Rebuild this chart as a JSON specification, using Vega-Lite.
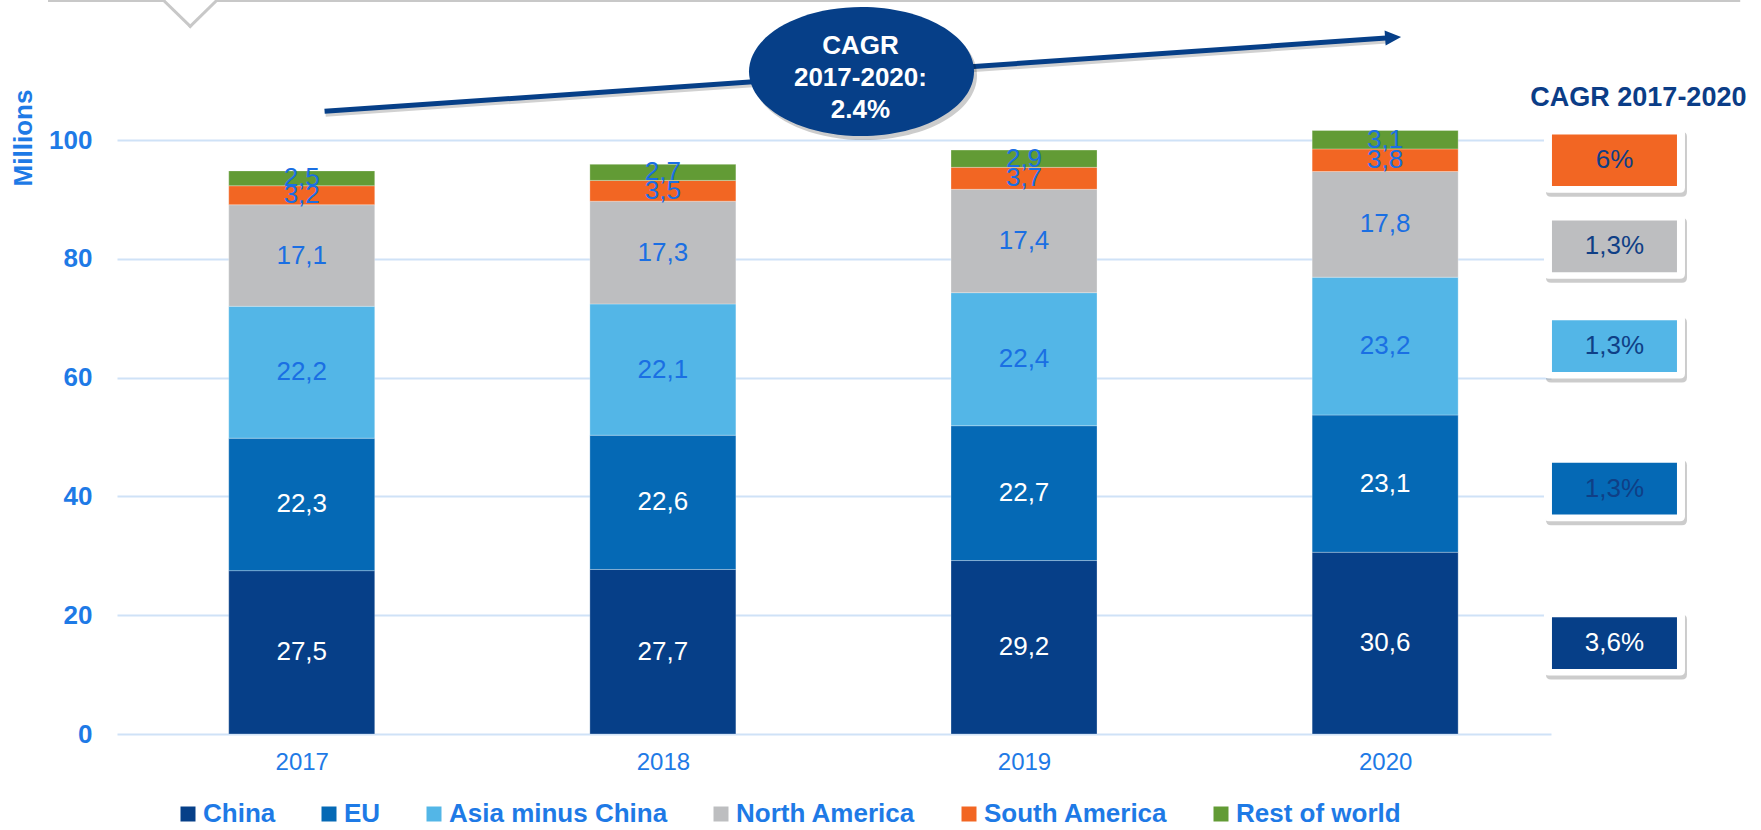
{
  "$schema": "https://vega.github.io/schema/vega-lite/v6.json",
  "width": 1434,
  "height": 734,
  "autosize": {"type": "none"},
  "padding": {"left": 117, "top": 0, "right": 210, "bottom": 96},
  "background": "white",
  "config": {
    "view": {"stroke": null},
    "font": "Liberation Sans",
    "locale": {"number": {"decimal": ",", "thousands": ".", "grouping": [3], "currency": ["", " €"]}}
  },
  "datasets": {
    "production": [
      {"year": 2017, "region": "China", "k": 1, "value": 27.5},
      {"year": 2017, "region": "EU", "k": 2, "value": 22.3},
      {"year": 2017, "region": "Asia minus China", "k": 3, "value": 22.2},
      {"year": 2017, "region": "North America", "k": 4, "value": 17.1},
      {"year": 2017, "region": "South America", "k": 5, "value": 3.2},
      {"year": 2017, "region": "Rest of world", "k": 6, "value": 2.5},
      {"year": 2018, "region": "China", "k": 1, "value": 27.7},
      {"year": 2018, "region": "EU", "k": 2, "value": 22.6},
      {"year": 2018, "region": "Asia minus China", "k": 3, "value": 22.1},
      {"year": 2018, "region": "North America", "k": 4, "value": 17.3},
      {"year": 2018, "region": "South America", "k": 5, "value": 3.5},
      {"year": 2018, "region": "Rest of world", "k": 6, "value": 2.7},
      {"year": 2019, "region": "China", "k": 1, "value": 29.2},
      {"year": 2019, "region": "EU", "k": 2, "value": 22.7},
      {"year": 2019, "region": "Asia minus China", "k": 3, "value": 22.4},
      {"year": 2019, "region": "North America", "k": 4, "value": 17.4},
      {"year": 2019, "region": "South America", "k": 5, "value": 3.7},
      {"year": 2019, "region": "Rest of world", "k": 6, "value": 2.9},
      {"year": 2020, "region": "China", "k": 1, "value": 30.6},
      {"year": 2020, "region": "EU", "k": 2, "value": 23.1},
      {"year": 2020, "region": "Asia minus China", "k": 3, "value": 23.2},
      {"year": 2020, "region": "North America", "k": 4, "value": 17.8},
      {"year": 2020, "region": "South America", "k": 5, "value": 3.8},
      {"year": 2020, "region": "Rest of world", "k": 6, "value": 3.1}
    ],
    "cagr": [
      {"region": "China", "cagr": "3,6%"},
      {"region": "EU", "cagr": "1,3%"},
      {"region": "Asia minus China", "cagr": "1,3%"},
      {"region": "North America", "cagr": "1,3%"},
      {"region": "South America", "cagr": "6%"}
    ]
  },
  "data": {"name": "production"},
  "layer": [
    {
      "mark": {"type": "bar", "width": 146, "stroke": "#ffffff", "strokeWidth": 0.8, "strokeOpacity": 0.35},
      "encoding": {
        "x": {
          "field": "year", "type": "quantitative",
          "scale": {"domain": [2016.5023, 2020.4454], "nice": false, "zero": false},
          "axis": {
            "values": [2017, 2018, 2019, 2020], "format": "d", "title": null,
            "ticks": false, "domain": false, "grid": false,
            "labelFontSize": 24, "labelColor": "#1e7ae6", "labelPadding": 16, "labelFont": "Liberation Sans"
          }
        },
        "y": {
          "field": "value", "type": "quantitative", "stack": "zero",
          "scale": {"domain": [0, 123.57], "nice": false},
          "axis": {
            "values": [0, 20, 40, 60, 80, 100], "format": "d",
            "ticks": false, "domain": false, "grid": true, "gridColor": "#cfe2f7", "gridWidth": 2,
            "labelFontSize": 26, "labelFontWeight": "bold", "labelColor": "#1e7ae6", "labelPadding": 25, "labelFont": "Liberation Sans",
            "title": "Millions", "titleFontSize": 26, "titleFontWeight": "bold", "titleColor": "#1e7ae6", "titleFont": "Liberation Sans",
            "titleAngle": -90, "titleX": -94, "titleY": 137.5, "titleAlign": "center", "titleBaseline": "middle"
          }
        },
        "color": {
          "field": "region", "type": "nominal",
          "scale": {
            "domain": ["China", "EU", "Asia minus China", "North America", "South America", "Rest of world"],
            "range": ["#063f88", "#0569b5", "#53b6e7", "#bdbec0", "#f26623", "#629b35"]
          },
          "legend": {
            "orient": "none", "legendX": 58, "legendY": 801, "direction": "horizontal", "title": null, "padding": 0,
            "symbolType": "square", "symbolSize": 225, "symbolStrokeWidth": 0,
            "labelFontSize": 26, "labelFontWeight": "bold", "labelColor": "#1e7ae6", "labelFont": "Liberation Sans",
            "labelOffset": 2, "columnPadding": 40, "labelLimit": 400
          }
        },
        "order": {"field": "k", "type": "quantitative"}
      }
    },
    {
      "mark": {"type": "text", "fontSize": 26, "font": "Liberation Sans", "baseline": "middle", "align": "center"},
      "encoding": {
        "x": {"field": "year", "type": "quantitative"},
        "y": {"field": "value", "type": "quantitative", "stack": "zero", "bandPosition": 0.5},
        "detail": {"field": "region"},
        "order": {"field": "k", "type": "quantitative"},
        "text": {"field": "value", "type": "quantitative", "format": ".1f"},
        "color": {"condition": {"test": "datum.region === 'China' || datum.region === 'EU'", "value": "#ffffff"}, "value": "#1a6fe3"}
      }
    },
    {
      "transform": [
        {"filter": "datum.year === 2020 && datum.region !== 'Rest of world'"},
        {"lookup": "region", "from": {"data": {"name": "cagr"}, "key": "region", "fields": ["cagr"]}}
      ],
      "encoding": {
        "x": {"datum": 2020.635, "type": "quantitative"},
        "y": {"field": "value", "type": "quantitative", "stack": "zero", "bandPosition": 0.5},
        "detail": {"field": "region"},
        "order": {"field": "k", "type": "quantitative"}
      },
      "layer": [
        {
          "mark": {
            "type": "point", "filled": true, "color": "#000000", "opacity": 0.2, "strokeWidth": 0,
            "shape": "M-0.929,-0.461H0.929Q1,-0.461,1,-0.39V0.39Q1,0.461,0.929,0.461H-0.929Q-1,0.461,-1,0.39V-0.39Q-1,-0.461,-0.929,-0.461Z",
            "size": 19881, "xOffset": 2,
            "yOffset": {"expr": "(datum.region === 'North America' ? 22 : datum.region === 'EU' ? 5 : 0) + 4"}
          }
        },
        {
          "mark": {
            "type": "point", "filled": true, "color": "#ffffff", "opacity": 1, "strokeWidth": 0,
            "shape": "M-0.929,-0.461H0.929Q1,-0.461,1,-0.39V0.39Q1,0.461,0.929,0.461H-0.929Q-1,0.461,-1,0.39V-0.39Q-1,-0.461,-0.929,-0.461Z",
            "size": 19881,
            "yOffset": {"expr": "datum.region === 'North America' ? 22 : datum.region === 'EU' ? 5 : 0"}
          }
        },
        {
          "mark": {
            "type": "point", "filled": true, "opacity": 1, "strokeWidth": 0,
            "shape": "M-1,-0.413H1V0.413H-1Z", "size": 15625,
            "yOffset": {"expr": "datum.region === 'North America' ? 22 : datum.region === 'EU' ? 5 : 0"}
          },
          "encoding": {
            "fill": {
              "field": "region", "type": "nominal", "legend": null,
              "scale": {
                "domain": ["China", "EU", "Asia minus China", "North America", "South America", "Rest of world"],
                "range": ["#063f88", "#0569b5", "#53b6e7", "#bdbec0", "#f26623", "#629b35"]
              }
            }
          }
        },
        {
          "mark": {
            "type": "text", "fontSize": 26, "font": "Liberation Sans", "baseline": "middle", "align": "center",
            "yOffset": {"expr": "datum.region === 'North America' ? 22 : datum.region === 'EU' ? 5 : 0"}
          },
          "encoding": {
            "text": {"field": "cagr", "type": "nominal"},
            "color": {"condition": {"test": "datum.region === 'China'", "value": "#ffffff"}, "value": "#0f3f86"}
          }
        }
      ]
    },
    {
      "data": {"values": [{"note": "frame"}]},
      "layer": [
        {
          "mark": {"type": "rule", "color": "#c8c8c8", "strokeWidth": 3, "strokeCap": "square"},
          "encoding": {"x": {"datum": 2016.3016}, "x2": {"datum": 2016.6178}, "y": {"datum": 123.48}, "y2": {"datum": 123.48}}
        },
        {
          "mark": {"type": "rule", "color": "#c8c8c8", "strokeWidth": 3, "strokeCap": "square"},
          "encoding": {"x": {"datum": 2016.6178}, "x2": {"datum": 2016.6912}, "y": {"datum": 123.48}, "y2": {"datum": 119.15}}
        },
        {
          "mark": {"type": "rule", "color": "#c8c8c8", "strokeWidth": 3, "strokeCap": "square"},
          "encoding": {"x": {"datum": 2016.6912}, "x2": {"datum": 2016.7643}, "y": {"datum": 119.15}, "y2": {"datum": 123.48}}
        },
        {
          "mark": {"type": "rule", "color": "#c8c8c8", "strokeWidth": 3, "strokeCap": "square"},
          "encoding": {"x": {"datum": 2016.7643}, "x2": {"datum": 2020.979}, "y": {"datum": 123.48}, "y2": {"datum": 123.48}}
        },
        {
          "mark": {"type": "rule", "color": "#000000", "opacity": 0.18, "strokeWidth": 5, "xOffset": 1, "x2Offset": 1, "yOffset": 3, "y2Offset": 3},
          "encoding": {"x": {"datum": 2017.0632}, "x2": {"datum": 2020.0027}, "y": {"datum": 104.83}, "y2": {"datum": 117.17}}
        },
        {
          "mark": {"type": "rule", "color": "#063f88", "strokeWidth": 5},
          "encoding": {"x": {"datum": 2017.0632}, "x2": {"datum": 2020.0027}, "y": {"datum": 104.83}, "y2": {"datum": 117.17}}
        },
        {
          "mark": {"type": "point", "filled": true, "color": "#063f88", "opacity": 1, "strokeWidth": 0, "shape": "M-1,-0.94L1,0L-1,0.94Z", "size": 256, "angle": -4},
          "encoding": {"x": {"datum": 2020.022}, "y": {"datum": 117.25}}
        },
        {
          "mark": {
            "type": "point", "filled": true, "color": "#000000", "opacity": 0.2, "strokeWidth": 0,
            "shape": "M-1,0C-1,-0.3164,-0.5523,-0.573,0,-0.573C0.5523,-0.573,1,-0.3164,1,0C1,0.3164,0.5523,0.573,0,0.573C-0.5523,0.573,-1,0.3164,-1,0Z",
            "size": 50625, "xOffset": 3, "yOffset": 4
          },
          "encoding": {"x": {"datum": 2018.55}, "y": {"datum": 111.52}}
        },
        {
          "mark": {
            "type": "point", "filled": true, "color": "#063f88", "opacity": 1, "strokeWidth": 0,
            "shape": "M-1,0C-1,-0.3164,-0.5523,-0.573,0,-0.573C0.5523,-0.573,1,-0.3164,1,0C1,0.3164,0.5523,0.573,0,0.573C-0.5523,0.573,-1,0.3164,-1,0Z",
            "size": 50625
          },
          "encoding": {"x": {"datum": 2018.55}, "y": {"datum": 111.52}}
        },
        {
          "mark": {"type": "text", "fontSize": 26, "fontWeight": "bold", "font": "Liberation Sans", "color": "#ffffff", "align": "center", "baseline": "middle", "lineHeight": 32},
          "encoding": {"x": {"datum": 2018.547}, "y": {"datum": 115.9}, "text": {"value": ["CAGR", "2017-2020:", "2.4%"]}}
        },
        {
          "mark": {"type": "text", "fontSize": 27, "fontWeight": "bold", "font": "Liberation Sans", "color": "#0b3d87", "align": "center", "baseline": "middle"},
          "encoding": {"x": {"datum": 2020.7012}, "y": {"datum": 107.14}, "text": {"value": "CAGR 2017-2020"}}
        }
      ]
    }
  ]
}
